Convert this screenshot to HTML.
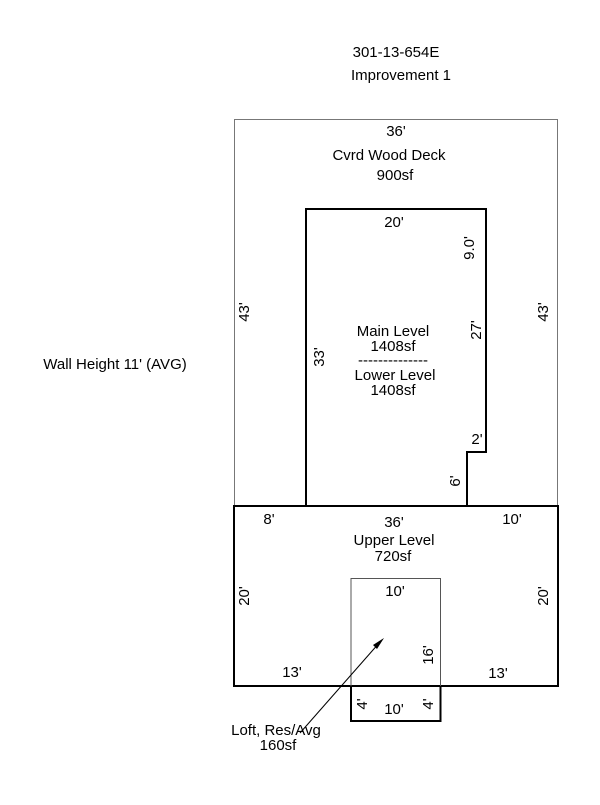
<!DOCTYPE html>
<html><head><style>body{margin:0;background:#fff}</style></head><body>
<svg width="600" height="800" xmlns="http://www.w3.org/2000/svg" font-family="Liberation Sans, Arial, sans-serif" font-size="15" fill="#000">
<rect x="0" y="0" width="600" height="800" fill="#fff"/>
<rect x="234.5" y="119.5" width="323" height="387" fill="none" stroke="#777" stroke-width="1"/>
<polyline points="306,506 306,209 486,209 486,452 467,452 467,506" fill="none" stroke="#000" stroke-width="2"/>
<rect x="234" y="506" width="324" height="180" fill="none" stroke="#000" stroke-width="2"/>
<polyline points="351,686 351,578.5 440.5,578.5 440.5,686" fill="none" stroke="#555" stroke-width="1"/>
<polyline points="351,686 351,721 440.5,721 440.5,686" fill="none" stroke="#000" stroke-width="2"/>
<line x1="300" y1="733" x2="380" y2="642" stroke="#000" stroke-width="1"/>
<polygon points="384,638 373,645 377,649" fill="#000"/>
<g text-anchor="middle">
<text x="396" y="57">301-13-654E</text>
<text x="401" y="80">Improvement 1</text>
<text x="115" y="369">Wall Height 11' (AVG)</text>
<text x="396" y="136">36'</text>
<text x="389" y="160">Cvrd Wood Deck</text>
<text x="395" y="180">900sf</text>
<text x="394" y="227">20'</text>
<text x="393" y="336">Main Level</text>
<text x="393" y="351">1408sf</text>
<text x="393" y="365">--------------</text>
<text x="395" y="380">Lower Level</text>
<text x="393" y="395">1408sf</text>
<text x="477" y="444">2'</text>
<text x="269" y="524">8'</text>
<text x="394" y="527">36'</text>
<text x="512" y="524">10'</text>
<text x="394" y="545">Upper Level</text>
<text x="393" y="561">720sf</text>
<text x="395" y="596">10'</text>
<text x="292" y="677">13'</text>
<text x="498" y="678">13'</text>
<text x="394" y="714">10'</text>
<text x="276" y="735">Loft, Res/Avg</text>
<text x="278" y="750">160sf</text>
</g>
<g text-anchor="middle">
<text transform="translate(249,312) rotate(-90)">43'</text>
<text transform="translate(548,312) rotate(-90)">43'</text>
<text transform="translate(474,248) rotate(-90)">9.0'</text>
<text transform="translate(481,330) rotate(-90)">27'</text>
<text transform="translate(324,357) rotate(-90)">33'</text>
<text transform="translate(460,481) rotate(-90)">6'</text>
<text transform="translate(249,596) rotate(-90)">20'</text>
<text transform="translate(548,596) rotate(-90)">20'</text>
<text transform="translate(433,655) rotate(-90)">16'</text>
<text transform="translate(367,704) rotate(-90)">4'</text>
<text transform="translate(433,704) rotate(-90)">4'</text>
</g>
</svg>
</body></html>
